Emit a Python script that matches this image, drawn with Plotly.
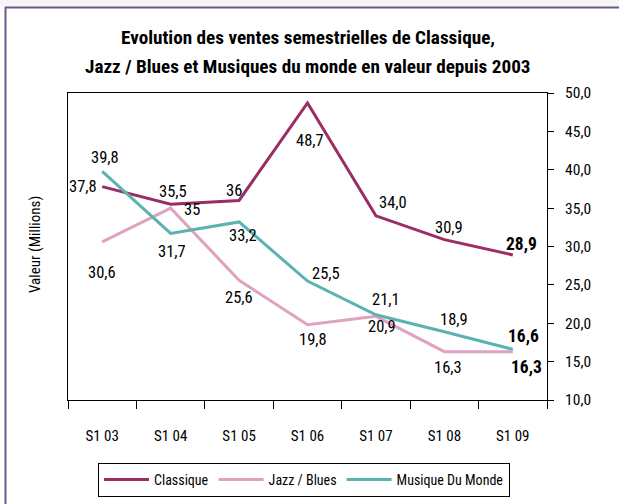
import plotly.graph_objects as go

categories = ["S1 03", "S1 04", "S1 05", "S1 06", "S1 07", "S1 08", "S1 09"]
classique = [37.8, 35.5, 36.0, 48.7, 34.0, 30.9, 28.9]
jazz_blues = [30.6, 35.0, 25.6, 19.8, 20.9, 16.3, 16.3]
musique_monde = [39.8, 31.7, 33.2, 25.5, 21.1, 18.9, 16.6]
classique_labels = ["37,8", "35,5", "36", "48,7", "34,0", "30,9", "28,9"]
jazz_labels = ["30,6", "35", "25,6", "19,8", "20,9", "16,3", "16,3"]
monde_labels = ["39,8", "31,7", "33,2", "25,5", "21,1", "18,9", "16,6"]
y_ticks = [10, 15, 20, 25, 30, 35, 40, 45, 50]
title_lines = ["Evolution des ventes semestrielles de Classique,",
               "Jazz / Blues et Musiques du monde en valeur depuis 2003"]

FONT = "Roboto Condensed, Liberation Sans Narrow, Roboto, sans-serif"
C_CLA = "#9b2d62"
C_JAZ = "#dfa2c0"
C_MDM = "#5bb3b0"

W, H = 619, 504
L, R, T, B = 68, 547, 93, 400

fig = go.Figure()
fig.add_trace(go.Scatter(x=categories, y=classique, mode="lines", name="Classique",
                         line=dict(color=C_CLA, width=3)))
fig.add_trace(go.Scatter(x=categories, y=jazz_blues, mode="lines", name="Jazz / Blues",
                         line=dict(color=C_JAZ, width=3)))
fig.add_trace(go.Scatter(x=categories, y=musique_monde, mode="lines", name="Musique Du Monde",
                         line=dict(color=C_MDM, width=3)))

# label offsets in pixels (dx, dy with dy positive = down)
off_cla = [(-19, 0), (2, -13), (-5, -10), (2, 38), (17, -13), (5, -12), (9, -11)]
off_jaz = [(0, 31), (21, 1), (0, 17), (5, 15), (6, 10), (4, 16), (14, 15)]
off_mdm = [(3, -14), (1, 18), (4, 14), (18, -8), (10, -15), (10, -12), (11, -13)]

annotations = []
for vals, labs, offs in ((classique, classique_labels, off_cla),
                         (jazz_blues, jazz_labels, off_jaz),
                         (musique_monde, monde_labels, off_mdm)):
    n = len(vals)
    for i, (c, v, t, (dx, dy)) in enumerate(zip(categories, vals, labs, offs)):
        last = i == n - 1
        annotations.append(dict(
            x=c, y=v, xref="x", yref="y", text=("<b>%s</b>" % t) if last else t,
            showarrow=False, xshift=dx, yshift=-dy,
            font=dict(family=FONT, size=17.5 if last else 16.5, color="black"),
            xanchor="center", yanchor="middle"))

pw, ph = R - L, B - T
def px(x):
    return (x - L) / pw
def py(y):
    return (B - y) / ph

for line, yy in zip(title_lines, (38, 67)):
    annotations.append(dict(
        x=0.5, y=py(yy), xref="paper", yref="paper", showarrow=False,
        text="<b>%s</b>" % line,
        font=dict(family=FONT, size=19.2, color="black"), xanchor="center", yanchor="middle"))
annotations.append(dict(
    x=px(35), y=py(245), xref="paper", yref="paper", showarrow=False,
    text="Valeur (Millions)", textangle=-90,
    font=dict(family=FONT, size=15, color="black"), xanchor="center", yanchor="middle"))

shapes = [
    dict(type="rect", xref="paper", yref="paper", x0=px(0), x1=px(W), y0=py(7), y1=py(0),
         fillcolor="#f8f4f8", line=dict(width=0), layer="below"),
    dict(type="line", xref="paper", yref="paper", x0=px(5), x1=px(W), y0=py(7.5), y1=py(7.5),
         line=dict(color="#6b5b86", width=2)),
    dict(type="line", xref="paper", yref="paper", x0=px(5.5), x1=px(5.5), y0=py(7), y1=py(H),
         line=dict(color="#6b5b86", width=2)),
]

fig.update_layout(
    width=W, height=H,
    margin=dict(l=L, r=W - R, t=T, b=H - B, autoexpand=False),
    paper_bgcolor="white", plot_bgcolor="white",
    separators=",.",
    font=dict(family=FONT, size=15, color="black"),
    showlegend=True,
    legend=dict(orientation="h", x=px(98), y=py(463), xanchor="left", yanchor="top",
                bordercolor="black", borderwidth=1, font=dict(family=FONT, size=14),
                bgcolor="white", tracegroupgap=0, itemwidth=45),
    annotations=annotations,
    shapes=shapes,
    xaxis=dict(type="category", tickson="boundaries", ticks="outside", ticklen=8,
               tickcolor="black", showline=True, linecolor="black", linewidth=1,
               mirror=True, showgrid=False, tickfont=dict(family=FONT, size=15),
               ticklabelstandoff=22, range=[-0.5, 6.5]),
    yaxis=dict(side="right", range=[10, 50], tickvals=y_ticks, tickformat=".1f",
               ticks="outside", ticklen=6, tickcolor="black", showline=True,
               linecolor="black", linewidth=1, mirror=True, showgrid=False,
               zeroline=False, tickfont=dict(family=FONT, size=15.5), ticklabelstandoff=8),
)

fig.write_html("out.html", config={"displayModeBar": False},
               post_script="document.body.style.margin='0';document.body.style.padding='0';")
